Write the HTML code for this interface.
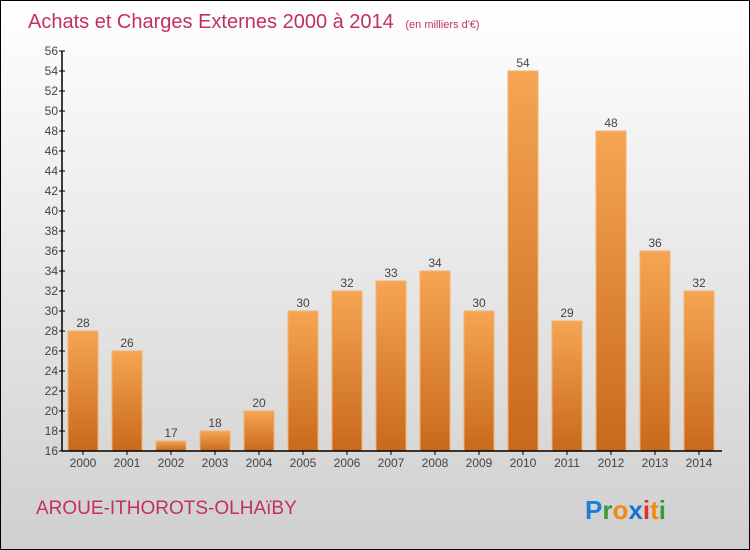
<!DOCTYPE html>
<html><head><meta charset="utf-8"><style>
body{margin:0}
#c{width:748px;height:548px;border:1px solid #000;background:linear-gradient(#fff,#cfcfcf);position:relative;font-family:"Liberation Sans",sans-serif;overflow:hidden}
</style></head><body>
<div id="c">
<svg width="748" height="548" id="s">
<defs><linearGradient id="g" x1="0" y1="0" x2="0" y2="1"><stop offset="0" stop-color="#f5a553"/><stop offset="1" stop-color="#c8691b"/></linearGradient></defs>
<text x="27" y="27" font-size="20" fill="#c3305e">Achats et Charges Externes 2000 à 2014 <tspan font-size="11" dx="6">(en milliers d'€)</tspan></text>
<text x="35" y="513" font-size="19" fill="#c3305e">AROUE-ITHOROTS-OLHAïBY</text>
<text x="584" y="518" font-size="26" font-weight="bold"><tspan fill="#1a7fd6">P</tspan><tspan fill="#3a9a3a">r</tspan><tspan fill="#f08a10">o</tspan><tspan fill="#1a6fd0">x</tspan><tspan fill="#e03020">i</tspan><tspan fill="#f08a10">t</tspan><tspan fill="#3a9a3a">i</tspan></text>
</svg></div>
<script>
const years=["2000","2001","2002","2003","2004","2005","2006","2007","2008","2009","2010","2011","2012","2013","2014"];
const values=[28,26,17,18,20,30,32,33,34,30,54,29,48,36,32];
const ticks=[16,18,20,22,24,26,28,30,32,34,36,38,40,42,44,46,48,50,52,54,56];
const s=document.getElementById('s');const NS='http://www.w3.org/2000/svg';
const y=v=>450-(v-16)*10, x=i=>82+i*44;
function mk(t,a,txt){const e=document.createElementNS(NS,t);for(const k in a)e.setAttribute(k,a[k]);if(txt!=null)e.textContent=txt;s.appendChild(e);return e;}
values.forEach((v,i)=>{
const r=mk('rect',{x:x(i)-15,y:y(v),width:30,height:450-y(v),fill:'url(#g)',stroke:'#f7b070','stroke-width':1});


const t=mk('text',{x:x(i),y:y(v)-4,'font-size':12,fill:'#444','text-anchor':'middle'},String(v));


const l=mk('text',{x:x(i),y:466,'font-size':12,fill:'#444','text-anchor':'middle'},years[i]);


mk('line',{x1:x(i),x2:x(i),y1:450,y2:454,stroke:'#000'});
});
ticks.forEach(t=>{
const e=mk('text',{x:57,y:y(t)+4,'font-size':12,fill:'#444','text-anchor':'end'},String(t));


mk('line',{x1:58,x2:64,y1:y(t),y2:y(t),stroke:'#000'});
});
const ya=mk('line',{x1:61,x2:61,y1:50,y2:450,stroke:'#000','stroke-width':1.5});


const xa=mk('line',{x1:61,x2:721,y1:450,y2:450,stroke:'#000','stroke-width':1.5});


</script>
</body></html>
